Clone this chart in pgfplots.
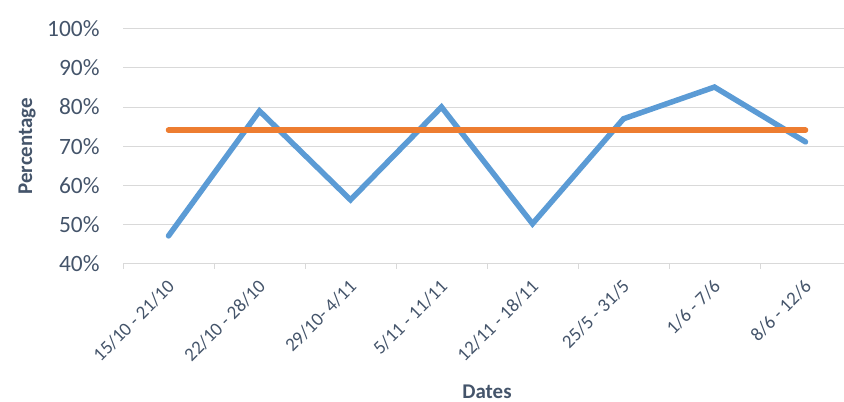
\documentclass[border=0pt]{standalone}
\usepackage{fontspec}
\setmainfont{Carlito}
\usepackage{pgfplots}
\pgfplotsset{compat=1.18}
\definecolor{txt}{HTML}{44546A}
\definecolor{grid}{HTML}{D9D9D9}
\definecolor{cblue}{HTML}{5B9BD5}
\definecolor{corange}{HTML}{ED7D31}
\begin{document}
\begin{tikzpicture}
\useasboundingbox (0,0) rectangle (844bp,402bp);
\begin{axis}[
  at={(123bp,138.3bp)}, anchor=south west,
  scale only axis, width=728bp, height=235bp,
  xmin=-0.5, xmax=7.5, ymin=40, ymax=100,
  axis lines*=left,
  x axis line style={draw=grid, line width=1bp},
  y axis line style={draw=none},
  ytick={40,50,...,100},
  yticklabel={\pgfmathprintnumber{\tick}\%},
  ymajorgrids, major grid style={draw=grid, line width=1bp},
  ytick style={draw=none},
  yticklabel style={font=\fontsize{23.5}{27}\selectfont, text=txt, anchor=east, inner sep=0pt, xshift=-19bp},
  xtick={0,...,7},
  xticklabels={15/10 - 21/10, 22/10 - 28/10, 29/10- 4/11, 5/11 - 11/11, 12/11 - 18/11, 25/5 - 31/5, 1/6 - 7/6, 8/6 - 12/6},
  xticklabel style={font=\fontsize{19}{22}\selectfont, text=txt, rotate=45, anchor=east, inner sep=0pt, xshift=-9bp, yshift=-12.9bp},
  major x tick style={draw=none},
  minor xtick={-0.5,0.5,...,7.5},
  minor x tick style={draw=grid, line width=1bp},
  minor tick length=5bp,
  tick align=outside,
  /pgf/number format/assume math mode=true,
  xlabel={Dates}, ylabel={Percentage},
  xlabel style={font=\bfseries\fontsize{21}{24}\selectfont, text=txt, at={(axis description cs:0.5,0)}, anchor=center, yshift=-128bp},
  ylabel style={font=\bfseries\fontsize{21}{24}\selectfont, text=txt, at={(axis description cs:0,0.5)}, anchor=center, yshift=96bp},
  clip=false,
]
\addplot[cblue, line width=5.5bp, line join=miter, line cap=round] coordinates {
  (0,47.1) (1,79) (2,56.3) (3,80) (4,50.2) (5,77) (6,85.1) (7,71.1)
};
\addplot[corange, line width=5.5bp, line cap=round] coordinates {
  (0,74.1) (1,74.1) (2,74.1) (3,74.1) (4,74.1) (5,74.1) (6,74.1) (7,74.1)
};
\end{axis}
\end{tikzpicture}
\end{document}
